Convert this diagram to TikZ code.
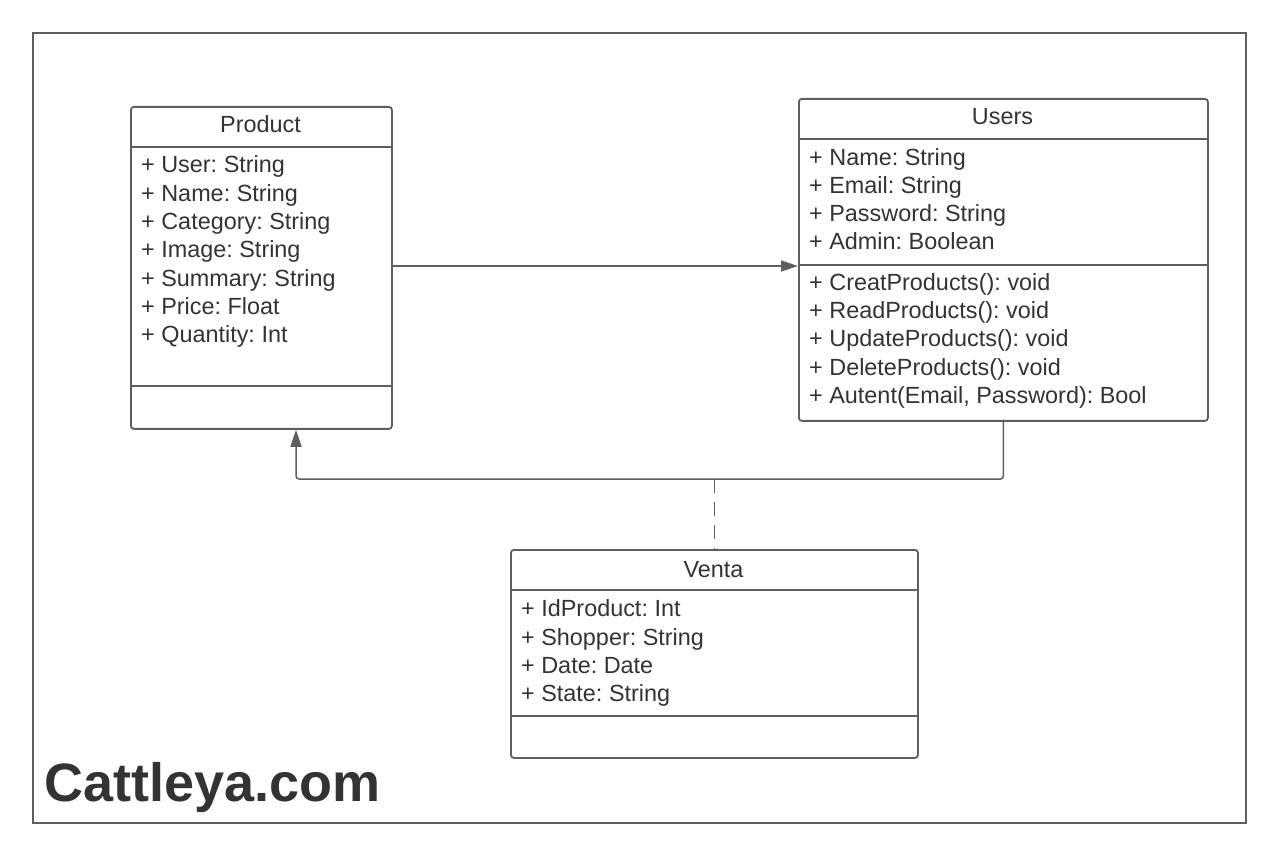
\documentclass[tikz,border=0pt]{standalone}
\usepackage{fontspec}
\setmainfont{Liberation Sans}
\usetikzlibrary{arrows.meta}
\definecolor{linec}{HTML}{5E5E5E}
\definecolor{textc}{HTML}{333333}
\frenchspacing
\begin{document}
\begin{tikzpicture}[x=1pt,y=-1pt,
  classbox/.style={draw=linec,line width=1.8pt,rounded corners=3pt,anchor=north west,inner sep=0pt,fill=white},
  divider/.style={draw=linec,line width=1.8pt},
  frame/.style={draw=linec,line width=2pt},
  member/.style={anchor=base west,inner sep=0pt,text=textc,font=\fontsize{23.4}{26}\selectfont},
  ctitle/.style={anchor=base,inner sep=0pt,text=textc,font=\fontsize{23.4}{26}\selectfont},
  conn/.style={draw=linec,line width=1.5pt},
  arr/.style={conn,-{Triangle[length=17pt,width=11pt]}},
  dashline/.style={conn,dash pattern=on 14pt off 9pt}
]
\useasboundingbox (0,0) rectangle (1280,858);
\fill[white] (0,0) rectangle (1280,858);
\draw[frame] (33,33) rectangle (1246,823);

% Product
\node[classbox,minimum width=261pt,minimum height=322pt] (prod) at (130,106) {};
\draw[divider] (130,147) -- (391,147);
\draw[divider] (130,386) -- (391,386);
\node[ctitle] (prodt) at (260.5,133) {Product};
\node[member] (p1) at (141,173) {+ User: String};
\node[member] (p2) at (141,201.5) {+ Name: String};
\node[member] (p3) at (141,230) {+ Category: String};
\node[member] (p4) at (141,258) {+ Image: String};
\node[member] (p5) at (141,286.5) {+ Summary: String};
\node[member] (p6) at (141,315) {+ Price: Float};
\node[member] (p7) at (141,343) {+ Quantity: Int};

% Users
\node[classbox,minimum width=409pt,minimum height=322pt] (users) at (798,98) {};
\draw[divider] (798,139) -- (1207,139);
\draw[divider] (798,265) -- (1207,265);
\node[ctitle] (userst) at (1002.5,125) {Users};
\node[member] (u1) at (809,166) {+ Name: String};
\node[member] (u2) at (809,194) {+ Email: String};
\node[member] (u3) at (809,222) {+ Password: String};
\node[member] (u4) at (809,250) {+ Admin: Boolean};
\node[member] (u5) at (809,291) {+ CreatProducts(): void};
\node[member] (u6) at (809,319) {+ ReadProducts(): void};
\node[member] (u7) at (809,347) {+ UpdateProducts(): void};
\node[member] (u8) at (809,376) {+ DeleteProducts(): void};
\node[member] (u9) at (809,404) {+ Autent(Email, Password): Bool};

% Venta
\node[classbox,minimum width=407pt,minimum height=208pt] (venta) at (510,549) {};
\draw[divider] (510,590) -- (917,590);
\draw[divider] (510,716) -- (917,716);
\node[ctitle] (ventat) at (713.5,577) {Venta};
\node[member] (v1) at (521,616) {+ IdProduct: Int};
\node[member] (v2) at (521,645) {+ Shopper: String};
\node[member] (v3) at (521,673) {+ Date: Date};
\node[member] (v4) at (521,701) {+ State: String};

% connectors
\draw[arr] (prod.east |- 0,266) -- (users.west |- 0,266);
\coordinate (pb) at ([xshift=166pt]prod.south west);
\coordinate (junc) at (venta.north |- 0,479);
\draw[arr,rounded corners=3pt] (users.south) -- (users.south |- 0,479) -- (pb |- 0,479) -- (pb);
\draw[dashline] (junc) -- (venta.north);

% title
\node[anchor=base west,inner sep=0pt,text=textc,font=\fontsize{54}{60}\selectfont\bfseries] (brand) at (44,801) {Cattleya.com};
\end{tikzpicture}
\end{document}
